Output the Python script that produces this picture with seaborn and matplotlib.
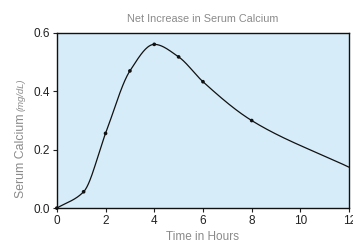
import numpy as np
import matplotlib
matplotlib.use("Agg")
import matplotlib.pyplot as plt
import seaborn as sns
import pandas as pd

# values
hours = [0, 1.1, 2, 3, 4, 5, 6, 8, 12]
calcium = [0.0, 0.056, 0.256, 0.47, 0.561, 0.518, 0.433, 0.30, 0.14]
marked = 8  # the last value (12 h) has no dot
x_ticks = [0, 2, 4, 6, 8, 10, 12]
y_ticks = [0.0, 0.2, 0.4, 0.6]


def pchip(x, y, xs):
    # monotone cubic (Fritsch-Carlson) for drawing the smooth curve
    x = np.asarray(x, float)
    y = np.asarray(y, float)
    h = np.diff(x)
    d = np.diff(y) / h
    m = np.zeros_like(y)
    for k in range(1, len(x) - 1):
        if d[k - 1] * d[k] > 0:
            w1 = 2 * h[k] + h[k - 1]
            w2 = h[k] + 2 * h[k - 1]
            m[k] = (w1 + w2) / (w1 / d[k - 1] + w2 / d[k])
    m[0] = d[0]
    m[-1] = d[-1]
    idx = np.clip(np.searchsorted(x, xs) - 1, 0, len(h) - 1)
    t = (xs - x[idx]) / h[idx]
    h00 = 2 * t**3 - 3 * t**2 + 1
    h10 = t**3 - 2 * t**2 + t
    h01 = -2 * t**3 + 3 * t**2
    h11 = t**3 - t**2
    return (h00 * y[idx] + h10 * h[idx] * m[idx]
            + h01 * y[idx + 1] + h11 * h[idx] * m[idx + 1])


sns.set_theme(style="ticks")
plt.rcParams["font.family"] = ["Liberation Sans", "DejaVu Sans"]

fig = plt.figure(figsize=(3.53, 2.46), dpi=100)
ax = fig.add_axes([0.161, 0.154, 0.828, 0.712])
ax.set_facecolor("#d6ecf9")

xs = np.linspace(hours[0], hours[-1], 400)
curve = pd.DataFrame({"x": xs, "y": pchip(hours, calcium, xs)})
sns.lineplot(data=curve, x="x", y="y", ax=ax, color="#111111", linewidth=0.9)

dots = pd.DataFrame({"x": hours[:marked], "y": calcium[:marked]})
sns.scatterplot(data=dots, x="x", y="y", ax=ax, color="#111111", s=7,
                edgecolor="none", zorder=3, clip_on=False)

ax.set_xlim(0, 12)
ax.set_ylim(0, 0.6)
ax.set_xticks(x_ticks)
ax.set_yticks(y_ticks)
ax.set_yticklabels([f"{v:.1f}" for v in y_ticks])
ax.tick_params(length=3, width=0.8, pad=2, labelsize=8.5, colors="#222222")
for s in ax.spines.values():
    s.set_color("#111111")
    s.set_linewidth(1.0)

ax.set_xlabel("Time in Hours", fontsize=8.5, color="#8a8a8a", labelpad=3)
ax.set_ylabel("")
ax.set_title("Net Increase in Serum Calcium", fontsize=7.8, color="#8a8a8a", pad=8)

t1 = fig.text(0.06, 1 - 198 / 246, "Serum Calcium", rotation=90, fontsize=8.8,
              color="#8a8a8a", ha="center", va="bottom")
ax.annotate("(mg/dL)", xy=(0.5, 1.0), xycoords=t1, xytext=(0, 2),
            textcoords="offset points", rotation=90, fontsize=6.8,
            fontstyle="italic", color="#8a8a8a", ha="center", va="bottom")

fig.savefig("out.png", dpi=100)
